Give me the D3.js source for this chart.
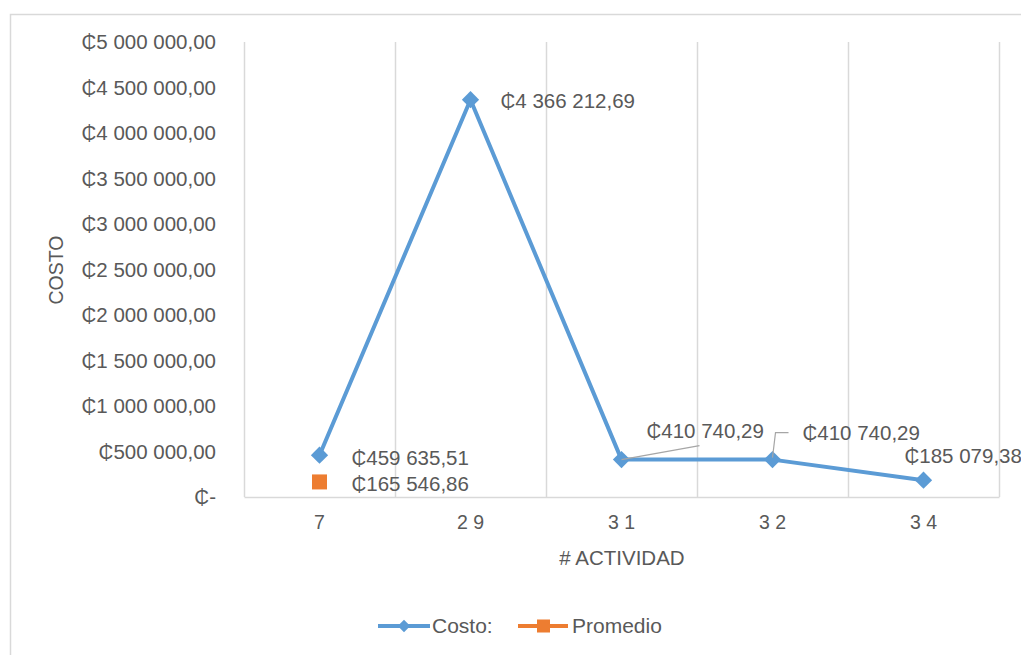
<!DOCTYPE html>
<html>
<head>
<meta charset="utf-8">
<script src="https://cdn.jsdelivr.net/npm/d3@7"></script>
<style>
  html, body { margin: 0; padding: 0; background: #fff; }
  svg { display: block; font-family: "Liberation Sans", Arial, sans-serif; }
</style>
</head>
<body>
<svg id="chart" width="1021" height="655"></svg>
<script>
// Activity numbers on the category axis and how they are printed
const categories = ["7", "29", "31", "32", "34"];
const categoryLabels = ["7", "2 9", "3 1", "3 2", "3 4"];
// Cost per activity (colones)
const costValues = [459635.51, 4366212.69, 410740.29, 410740.29, 185079.38];
// Average cost, shown against the first activity only
const averageValues = [165546.86];
// Value axis ticks
const yTicks = [0, 500000, 1000000, 1500000, 2000000, 2500000, 3000000, 3500000, 4000000, 4500000, 5000000];

const seriesNames = ["Costo:", "Promedio"];
const blue = "#5B9BD5", orange = "#ED7D31", textGray = "#595959", gridGray = "#d9d9d9";

const svg = d3.select("#chart");

// "1 234 567,89" style numbers with the cedi sign
function money(v) {
  const parts = v.toFixed(2).split(".");
  const intPart = parts[0].replace(/\B(?=(\d{3})+(?!\d))/g, " ");
  return "\u20B5" + intPart + "," + parts[1];
}
function tickMoney(v) { return v === 0 ? "\u20B5-" : money(v); }

// Chart area frame
svg.append("rect").attr("x", 10.5).attr("y", 14.5).attr("width", 1030).attr("height", 660)
  .attr("fill", "#fff").attr("stroke", gridGray).attr("stroke-width", 1.5);

const plot = { left: 244, right: 999, top: 42, bottom: 497 };

const x = d3.scaleBand().domain(categories).range([plot.left, plot.right]).padding(0);
const y = d3.scaleLinear().domain([0, 5000000]).range([plot.bottom, plot.top]);

// Vertical gridlines at category boundaries
const bounds = categories.map(c => x(c)).concat([x.range()[1]]);
svg.append("g").selectAll("line").data(bounds).join("line")
  .attr("x1", d => d + 0.5).attr("x2", d => d + 0.5)
  .attr("y1", plot.top).attr("y2", plot.bottom)
  .attr("stroke", gridGray).attr("stroke-width", 1.5);

// Category axis
const xAxis = svg.append("g").attr("transform", `translate(0,${plot.bottom})`)
  .call(d3.axisBottom(x).tickSize(0).tickPadding(18).tickFormat((d, i) => categoryLabels[i]));
xAxis.select(".domain").attr("stroke", gridGray).attr("stroke-width", 1.5);
xAxis.selectAll("text").attr("fill", textGray).attr("font-size", 19.5)
  .attr("font-family", "Liberation Sans, Arial, sans-serif");

// Value axis (labels only)
const yAxis = svg.append("g").attr("transform", `translate(${plot.left - 28},0)`)
  .call(d3.axisLeft(y).tickValues(yTicks).tickSize(0).tickPadding(0).tickFormat(tickMoney));
yAxis.select(".domain").remove();
yAxis.selectAll("text").attr("fill", textGray).attr("font-size", 20.5)
  .attr("font-family", "Liberation Sans, Arial, sans-serif");

// Axis titles
svg.append("text").attr("transform", `translate(63,270) rotate(-90)`)
  .attr("text-anchor", "middle").attr("fill", textGray).attr("font-size", 19.5)
  .text("COSTO");
svg.append("text").attr("x", 622).attr("y", 565)
  .attr("text-anchor", "middle").attr("fill", textGray).attr("font-size", 20.5)
  .text("# ACTIVIDAD");

// Cost line
const costPoints = categories.map((c, i) => ({ c, v: costValues[i] }));
const cx = d => x(d.c) + x.bandwidth() / 2;
svg.append("path").datum(costPoints)
  .attr("fill", "none").attr("stroke", blue).attr("stroke-width", 4)
  .attr("stroke-linejoin", "round")
  .attr("d", d3.line().x(cx).y(d => y(d.v)));

const diamond = d3.symbol().type(d3.symbolDiamond2).size(190);
svg.append("g").selectAll("path").data(costPoints).join("path")
  .attr("transform", d => `translate(${cx(d)},${y(d.v)})`)
  .attr("d", diamond).attr("fill", blue);

// Average marker
const avgPoints = averageValues.map((v, i) => ({ c: categories[i], v }));
svg.append("g").selectAll("rect").data(avgPoints).join("rect")
  .attr("x", d => cx(d) - 7.5).attr("y", d => y(d.v) - 7.5)
  .attr("width", 15).attr("height", 15).attr("fill", orange);

// Data label placement (offset of the label's left/baseline from its point)
const costLabelOffsets = [[32, 10], [30, 8], [25, -22], [30, -20], [-19, -17]];
const avgLabelOffsets = [[32, 9]];

// Leader lines for the moved labels
const leaders = [
  [[0, 0], [78, -14]],
  [[0, -2], [3, -27], [16, -27]]
];
const leaderIdx = [2, 3];
leaderIdx.forEach((idx, k) => {
  const p = costPoints[idx];
  svg.append("path")
    .attr("d", d3.line()(leaders[k].map(o => [cx(p) + o[0], y(p.v) + o[1]])))
    .attr("fill", "none").attr("stroke", "#a6a6a6").attr("stroke-width", 1.2);
});

svg.append("g").selectAll("text").data(costPoints).join("text")
  .attr("x", (d, i) => cx(d) + costLabelOffsets[i][0])
  .attr("y", (d, i) => y(d.v) + costLabelOffsets[i][1])
  .attr("fill", textGray).attr("font-size", 20.5)
  .text(d => money(d.v));

svg.append("g").selectAll("text").data(avgPoints).join("text")
  .attr("x", (d, i) => cx(d) + avgLabelOffsets[i][0])
  .attr("y", (d, i) => y(d.v) + avgLabelOffsets[i][1])
  .attr("fill", textGray).attr("font-size", 20.5)
  .text(d => money(d.v));

// Legend
const legend = svg.append("g").attr("transform", "translate(0,626)");
const leg1 = legend.append("g").attr("transform", "translate(378,0)");
leg1.append("line").attr("x1", 0).attr("x2", 52).attr("stroke", blue).attr("stroke-width", 4);
leg1.append("path").attr("transform", "translate(26,0)").attr("d", d3.symbol().type(d3.symbolDiamond2).size(100)).attr("fill", blue);
leg1.append("text").attr("x", 54).attr("y", 7).attr("fill", textGray).attr("font-size", 21).text(seriesNames[0]);

const leg2 = legend.append("g").attr("transform", "translate(518,0)");
leg2.append("line").attr("x1", 0).attr("x2", 50).attr("stroke", orange).attr("stroke-width", 4);
leg2.append("rect").attr("x", 19).attr("y", -6.5).attr("width", 13).attr("height", 13).attr("fill", orange);
leg2.append("text").attr("x", 54).attr("y", 7).attr("fill", textGray).attr("font-size", 21).text(seriesNames[1]);
</script>
</body>
</html>
